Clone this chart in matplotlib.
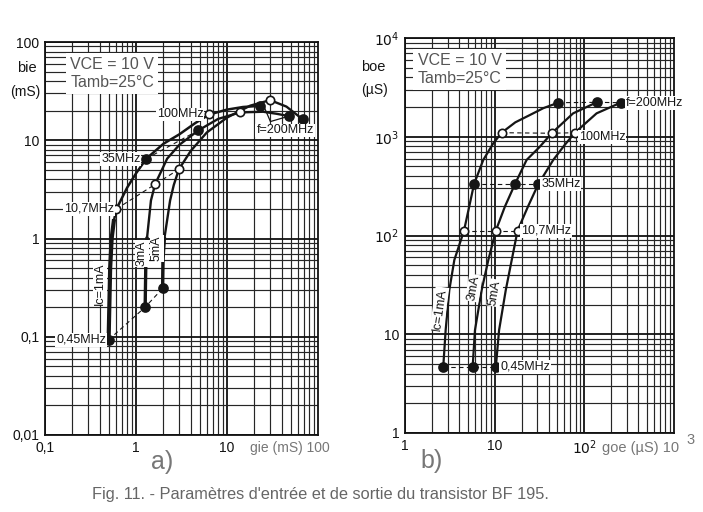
import matplotlib
matplotlib.use("Agg")
import matplotlib.pyplot as plt
from matplotlib.ticker import LogLocator, NullFormatter

plt.rcParams['font.family'] = ['DejaVu Sans']
NARROW = ['Liberation Sans', 'DejaVu Sans']

# ---------------- Panel a data (gie, bie in mS) ----------------
a_1mA_x = [0.50, 0.52, 0.54, 0.57, 0.61, 0.8, 1.0, 1.3, 2.0, 3.0, 4.5, 6.4, 10, 15, 23]
a_1mA_y = [0.093, 0.5, 1.0, 1.5, 2.0, 3.3, 4.6, 6.5, 9.2, 11.5, 15, 18.3, 20.5, 21.8, 22.4]
a_3mA_x = [1.26, 1.28, 1.32, 1.46, 1.62, 2.2, 3.0, 4.84, 8, 13.9, 25, 35, 48]
a_3mA_y = [0.20, 0.5, 1.0, 2.44, 3.56, 6.5, 9.0, 12.6, 16.5, 19.2, 19.5, 18.6, 17.6]
a_5mA_x = [1.96, 1.98, 2.05, 2.37, 2.6, 2.96, 4.0, 6.0, 10, 18, 29.8, 45, 68]
a_5mA_y = [0.31, 0.6, 1.0, 2.44, 3.5, 5.06, 7.8, 12, 17, 22.5, 25.6, 22, 16.3]

a_f045_x = [0.50, 1.26, 1.96]
a_f045_y = [0.093, 0.20, 0.31]
a_f107_x = [0.61, 1.62, 2.96]
a_f107_y = [2.0, 3.56, 5.06]
a_f35_x = [1.3, 4.84]
a_f35_y = [6.5, 12.6]
a_f100_x = [6.4, 13.9, 29.8]
a_f100_y = [18.3, 19.2, 25.6]
a_f200_x = [23, 48, 68]
a_f200_y = [22.4, 17.6, 16.3]

# ---------------- Panel b data (goe, boe in uS) ----------------
b_1mA_x = [2.67, 2.84, 3.12, 3.55, 4.55, 5.2, 5.88, 7.46, 9.66, 11.97, 17, 24.7, 35, 51.2]
b_1mA_y = [4.66, 11, 28, 56.5, 112, 196, 330, 582, 859, 1099, 1400, 1660, 1950, 2213]
b_3mA_x = [5.68, 6.03, 7.16, 8.5, 10.3, 13.0, 16.8, 22.7, 32, 43.2, 75, 137]
b_3mA_y = [4.66, 11, 28, 56.5, 112, 196, 330, 582, 795, 1085, 1726, 2230]
b_5mA_x = [10.3, 11.2, 13.3, 15.5, 18.0, 23.5, 30.6, 45, 60, 78.5, 137, 254]
b_5mA_y = [4.66, 11, 28, 56.5, 112, 196, 330, 582, 820, 1099, 1726, 2213]

b_f045_x = [2.67, 5.68, 10.3]
b_f045_y = [4.66, 4.66, 4.66]
b_f107_x = [4.55, 10.3, 18.0]
b_f107_y = [112, 112, 112]
b_f35_x = [5.88, 16.8, 30.6]
b_f35_y = [330, 330, 330]
b_f100_x = [11.97, 43.2, 78.5]
b_f100_y = [1099, 1085, 1099]
b_f200_x = [51.2, 137, 254]
b_f200_y = [2213, 2230, 2213]

a_xticks = [0.1, 1, 10]
a_xticklabels = ['0,1', '1', '10']
a_yticks = [0.01, 0.1, 1, 10, 100]
a_yticklabels = ['0,01', '0,1', '1', '10', '100']
b_xticks = [1, 10, 100]
b_xticklabels = ['1', '10', r'$10^2$']
b_yticks = [1, 10, 100, 1000, 10000]
b_yticklabels = ['1', '10', r'$10^2$', r'$10^3$', r'$10^4$']

W, H = 703, 512
fig = plt.figure(figsize=(W / 100, H / 100), dpi=100)

def fx(px):
    return px / W

def fy(py):
    return 1 - py / H

axa = fig.add_axes([fx(45), fy(435), fx(318) - fx(45), fy(42) - fy(435)])
axb = fig.add_axes([fx(405), fy(433), fx(674) - fx(405), fy(38) - fy(433)])

def setup(ax, xlim, ylim, xt, xtl, yt, ytl):
    ax.set_xscale('log')
    ax.set_yscale('log')
    ax.set_xlim(*xlim)
    ax.set_ylim(*ylim)
    ax.set_xticks(xt)
    ax.set_xticklabels(xtl)
    ax.set_yticks(yt)
    ax.set_yticklabels(ytl)
    ax.xaxis.set_minor_locator(LogLocator(base=10, subs=range(2, 10), numticks=20))
    ax.yaxis.set_minor_locator(LogLocator(base=10, subs=range(2, 10), numticks=20))
    ax.xaxis.set_minor_formatter(NullFormatter())
    ax.yaxis.set_minor_formatter(NullFormatter())
    ax.grid(True, which='major', color='#111111', lw=1.3)
    ax.grid(True, which='minor', color='#262626', lw=0.85)
    ax.tick_params(which='both', length=0, labelsize=10, pad=4, colors='#111111')
    for t in ax.get_xticklabels() + ax.get_yticklabels():
        t.set_family(NARROW)
    for s in ax.spines.values():
        s.set_linewidth(1.3)
        s.set_color('#111111')
    ax.set_axisbelow(True)

setup(axa, (0.1, 100), (0.01, 100), a_xticks, a_xticklabels, a_yticks, a_yticklabels)
setup(axb, (1, 1000), (1, 10000), b_xticks, b_xticklabels, b_yticks, b_yticklabels)

CK = '#151515'

# ----- panel a curves -----
axa.plot(a_1mA_x, a_1mA_y, color=CK, lw=1.8, zorder=3)
axa.plot(a_1mA_x[:4], a_1mA_y[:4], color=CK, lw=3.0, zorder=3)
axa.plot(a_3mA_x, a_3mA_y, color=CK, lw=1.7, zorder=3)
axa.plot(a_3mA_x[:3], a_3mA_y[:3], color=CK, lw=2.4, zorder=3)
axa.plot(a_5mA_x, a_5mA_y, color=CK, lw=1.7, zorder=3)
axa.plot(a_5mA_x[:3], a_5mA_y[:3], color=CK, lw=2.4, zorder=3)

for xs, ys in [(a_f045_x, a_f045_y), (a_f107_x, a_f107_y), (a_f35_x, a_f35_y)]:
    axa.plot(xs, ys, color=CK, lw=0.8, ls=(0, (4, 3)), zorder=3)

def marks(ax, xs, ys, filled):
    ax.plot(xs, ys, 'o', ms=6.5 if filled else 6, mfc=CK if filled else 'white',
            mec=CK, mew=1.2, ls='none', zorder=5)

marks(axa, a_f045_x, a_f045_y, True)
marks(axa, a_f107_x, a_f107_y, False)
marks(axa, a_f35_x, a_f35_y, True)
marks(axa, a_f100_x, a_f100_y, False)
marks(axa, a_f200_x, a_f200_y, True)

# leader for f=200MHz
axa.plot([a_f200_x[0] * 1.1, 30, a_f200_x[1]], [a_f200_y[0], 15.5, a_f200_y[1]],
         color=CK, lw=0.9, zorder=4)

lbl = dict(fontsize=9, color=CK, zorder=6, family=NARROW,
           bbox=dict(facecolor='white', edgecolor='none', pad=0.6))
axa.text(0.47, 0.093, '0,45MHz', ha='right', va='center', **lbl)
axa.text(0.57, 2.0, '10,7MHz', ha='right', va='center', **lbl)
axa.text(1.12, 6.5, '35MHz', ha='right', va='center', **lbl)
axa.text(1.7, 18.3, '100MHz', ha='left', va='center', **lbl)
axa.text(21, 12.6, 'f=200MHz', ha='left', va='center', **lbl)
axa.text(0.40, 0.35, 'Ic=1mA', rotation=90, ha='center', va='center', **lbl)
axa.text(1.16, 0.70, '3mA', rotation=90, ha='center', va='center', **lbl)
axa.text(1.70, 0.79, '5mA', rotation=90, ha='center', va='center', **lbl)

box = dict(facecolor='white', edgecolor='none', pad=3)
boxtxt = dict(fontsize=11.5, color='#555555', ha='left', va='top', linespacing=1.25,
              bbox=box, zorder=7, family=['Liberation Sans', 'DejaVu Sans'])
axa.text(0.19, 70, 'VCE = 10 V\nTamb=25°C', **boxtxt)

# ----- panel b curves -----
axb.plot(b_1mA_x, b_1mA_y, color=CK, lw=1.6, zorder=3)
axb.plot(b_3mA_x, b_3mA_y, color=CK, lw=1.6, zorder=3)
axb.plot(b_5mA_x, b_5mA_y, color=CK, lw=1.6, zorder=3)

for xs, ys in [(b_f045_x, b_f045_y), (b_f107_x, b_f107_y), (b_f35_x, b_f35_y),
               (b_f100_x, b_f100_y), (b_f200_x, b_f200_y)]:
    axb.plot(xs, ys, color=CK, lw=0.8, ls=(0, (4, 3)), zorder=3)

marks(axb, b_f045_x, b_f045_y, True)
marks(axb, b_f107_x, b_f107_y, False)
marks(axb, b_f35_x, b_f35_y, True)
marks(axb, b_f100_x, b_f100_y, False)
marks(axb, b_f200_x, b_f200_y, True)

axb.text(11.5, 4.66, '0,45MHz', ha='left', va='center', **lbl)
axb.text(19.5, 112, '10,7MHz', ha='left', va='center', **lbl)
axb.text(33, 330, '35MHz', ha='left', va='center', **lbl)
axb.text(87, 1000, '100MHz', ha='left', va='center', **lbl)
axb.text(290, 2213, 'f=200MHz', ha='left', va='center', **lbl)
axb.text(2.42, 18, 'Ic=1mA', rotation=82, ha='center', va='center', **lbl)
axb.text(5.85, 29.4, '3mA', rotation=80, ha='center', va='center', **lbl)
axb.text(10.1, 26.2, '5mA', rotation=80, ha='center', va='center', **lbl)

axb.text(1.38, 7000, 'VCE = 10 V\nTamb=25°C', **boxtxt)

# axis names
fig.text(fx(27), fy(68), 'bie', fontsize=10.5, ha='center', va='center', color=CK, family=NARROW)
fig.text(fx(25), fy(92), '(mS)', fontsize=10, ha='center', va='center', color=CK, family=NARROW)
fig.text(fx(373), fy(67), 'boe', fontsize=10.5, ha='center', va='center', color=CK, family=NARROW)
fig.text(fx(375), fy(90), '(µS)', fontsize=10, ha='center', va='center', color=CK, family=NARROW)
fig.text(fx(290), fy(448), 'gie (mS) 100', fontsize=10, ha='center', va='center',
         color='#777777', family=['Liberation Sans', 'DejaVu Sans'])
fig.text(fx(641), fy(448), 'goe (µS) 10', fontsize=10.5, ha='center', va='center',
         color='#777777', family=['Liberation Sans', 'DejaVu Sans'])
fig.text(fx(691), fy(440), '3', fontsize=10.5, ha='center', va='center',
         color='#777777', family=['Liberation Sans', 'DejaVu Sans'])

fig.text(fx(162), fy(462), 'a)', fontsize=18, ha='center', va='center', color='#777777',
         family=['Liberation Sans', 'DejaVu Sans'])
fig.text(fx(432), fy(461), 'b)', fontsize=18, ha='center', va='center', color='#777777',
         family=['Liberation Sans', 'DejaVu Sans'])

fig.text(fx(320), fy(494), "Fig. 11. - Paramètres d'entrée et de sortie du transistor BF 195.",
         fontsize=11.8, ha='center', va='center', color='#666666',
         family=['Liberation Sans', 'DejaVu Sans'])

fig.savefig('out.png', dpi=100, facecolor='white')
